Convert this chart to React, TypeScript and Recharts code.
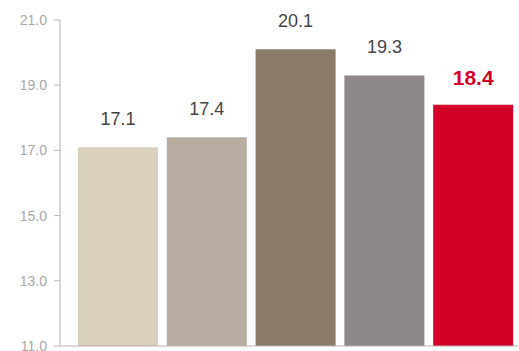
import React from "react";
import { BarChart, Bar, XAxis, YAxis, Cell, LabelList } from "recharts";

const categories = ["A", "B", "C", "D", "E"];
const values = [17.1, 17.4, 20.1, 19.3, 18.4];
const yTicks = [11, 13, 15, 17, 19, 21];

const barColors = ["#d8d0bd", "#b8ada0", "#8a7b69", "#8e888a", "#d50027"];

const data = categories.map((c, i) => ({ name: c, value: values[i] }));

const FONT = "Helvetica, Arial, 'Liberation Sans', sans-serif";

const renderLabel = (props: any) => {
  const { x, y, width, value, index } = props;
  const last = index === values.length - 1;
  return (
    <text
      x={x + width / 2}
      y={y - (last ? 20 : 22)}
      textAnchor="middle"
      fontFamily={FONT}
      fontSize={last ? 21 : 18}
      fontWeight={last ? 700 : 400}
      fill={last ? "#d50027" : "#444444"}
    >
      {Number(value).toFixed(1)}
    </text>
  );
};

export default function App() {
  return (
    <div style={{ position: "absolute", left: 0, top: 0, background: "#fff" }}>
      <BarChart
        width={519}
        height={351}
        data={data}
        margin={{ top: 20, right: 1, bottom: 4, left: 0 }}
      >
        <XAxis
          dataKey="name"
          tick={false}
          tickLine={false}
          height={1}
          padding={{ left: 14, right: 0 }}
          axisLine={{ stroke: "#b5b5b5" }}
        />
        <YAxis
          width={60}
          domain={[11, 21]}
          ticks={yTicks}
          interval={0}
          allowDataOverflow
          tickFormatter={(v: number) => v.toFixed(1)}
          tick={{ fill: "#a8a8a8", fontSize: 14, fontFamily: FONT }}
          tickSize={6}
          tickMargin={7}
          axisLine={{ stroke: "#b5b5b5" }}
          tickLine={{ stroke: "#b5b5b5" }}
        />
        <Bar dataKey="value" barSize={80} isAnimationActive={false}>
          {data.map((d, i) => (
            <Cell key={d.name} fill={barColors[i]} />
          ))}
          <LabelList dataKey="value" content={renderLabel} />
        </Bar>
      </BarChart>
    </div>
  );
}
